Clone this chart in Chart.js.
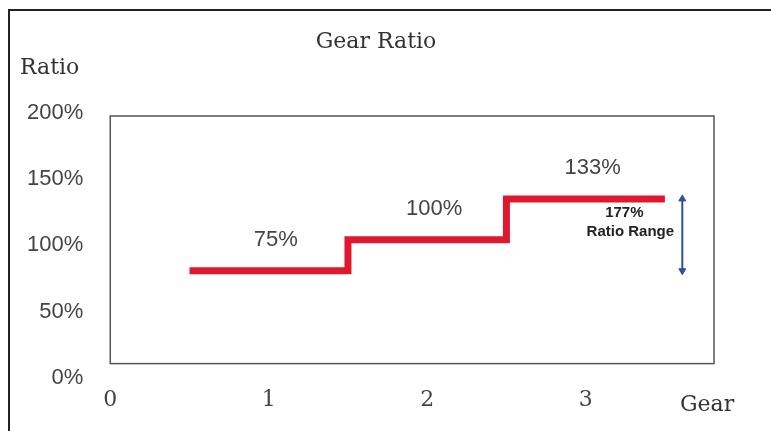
<!DOCTYPE html>
<html>
<head>
<meta charset="utf-8">
<script src="https://cdn.jsdelivr.net/npm/chart.js@4"></script>
<style>
  html, body { margin: 0; padding: 0; background: #ffffff; }
  #wrap { width: 771px; height: 431px; position: relative; }
</style>
</head>
<body>
<div id="wrap"><canvas id="gearChart"></canvas></div>
<script>
// data
const gears = [1, 2, 3];
const ratios = [75, 100, 133];
const xTicks = [0, 1, 2, 3];
const yTicks = [0, 50, 100, 150, 200];
const rangeLabel = ['177%', 'Ratio Range'];
const arrowGear = 3.61;

// each gear drawn as a flat step from g-0.5 to g+0.5
const stepPoints = [];
gears.forEach(function (g, i) {
    stepPoints.push({ x: g - 0.5, y: ratios[i] });
    stepPoints.push({ x: g + 0.5, y: ratios[i] });
});

const arrowPoints = [
    { x: arrowGear, y: Math.min.apply(null, ratios) },
    { x: arrowGear, y: Math.max.apply(null, ratios) }
];

const serif = '"DejaVu Serif", serif';
const sans = '"Liberation Sans", Arial, sans-serif';

const extras = {
    id: 'extras',
    beforeDraw: function (chart) {
        const ctx = chart.ctx;
        ctx.save();
        // outer frame (only top and left visible)
        ctx.strokeStyle = '#222';
        ctx.lineWidth = 2;
        ctx.beginPath();
        ctx.moveTo(9, 431);
        ctx.lineTo(9, 10);
        ctx.lineTo(771, 10);
        ctx.stroke();
        ctx.restore();
    },
    afterDatasetsDraw: function (chart) {
        const ctx = chart.ctx;
        const xs = chart.scales.x, ys = chart.scales.y;
        ctx.save();
        // plot box 0..200%
        const l = xs.getPixelForValue(xs.min), r = xs.getPixelForValue(xs.max);
        const t = ys.getPixelForValue(yTicks[yTicks.length - 1]), b = ys.getPixelForValue(yTicks[0]);
        ctx.strokeStyle = '#555';
        ctx.lineWidth = 1.5;
        ctx.strokeRect(l, t, r - l, b - t);

        // value labels over each step
        ctx.fillStyle = '#444';
        ctx.font = '22px ' + sans;
        ctx.textAlign = 'center';
        ctx.textBaseline = 'middle';
        gears.forEach(function (g, i) {
            ctx.fillText(ratios[i] + '%', xs.getPixelForValue(g) + 7, ys.getPixelForValue(ratios[i]) - 31);
        });

        // ratio range note
        ctx.fillStyle = '#222';
        ctx.font = 'bold 15px ' + sans;
        const nx = xs.getPixelForValue(arrowGear) - 52;
        ctx.fillText(rangeLabel[0], nx - 6, 213);
        ctx.fillText(rangeLabel[1], nx, 232);

        // title and axis names
        ctx.fillStyle = '#333';
        ctx.font = '22px ' + serif;
        ctx.fillText('Gear Ratio', 376, 42);
        ctx.textAlign = 'left';
        ctx.fillText('Ratio', 20, 68);
        ctx.fillText('Gear', 680, 405);
        ctx.restore();
    }
};

new Chart(document.getElementById('gearChart'), {
    type: 'scatter',
    data: {
        datasets: [
            {
                label: 'Gear Ratio',
                data: stepPoints,
                showLine: true,
                borderColor: '#e0182d',
                borderWidth: 7,
                borderJoinStyle: 'miter',
                borderCapStyle: 'butt',
                pointRadius: 0,
                xAxisID: 'x',
                yAxisID: 'y'
            },
            {
                label: 'Ratio Range',
                data: arrowPoints,
                showLine: true,
                borderColor: '#2f4f9f',
                borderWidth: 2,
                pointStyle: 'triangle',
                pointRadius: 4,
                pointRotation: [180, 0],
                pointBackgroundColor: '#2f4f9f',
                pointBorderColor: '#2f4f9f',
                pointBorderWidth: 1,
                xAxisID: 'x',
                yAxisID: 'y'
            }
        ]
    },
    options: {
        responsive: true,
        maintainAspectRatio: false,
        animation: false,
        layout: {
            padding: { left: 0, right: 57, top: 113, bottom: 9 }
        },
        plugins: {
            legend: { display: false },
            tooltip: { enabled: false },
            title: { display: false }
        },
        scales: {
            x: {
                type: 'linear',
                min: 0,
                max: 3.81,
                grid: { display: false, drawTicks: false },
                border: { display: false },
                afterBuildTicks: function (axis) {
                    axis.ticks = xTicks.map(function (v) { return { value: v }; });
                },
                ticks: {
                    color: '#444',
                    font: { family: serif, size: 22 },
                    padding: 9,
                    autoSkip: false,
                    maxRotation: 0
                }
            },
            // tick labels sit a little further apart than the box they describe
            yLabels: {
                type: 'linear',
                position: 'left',
                min: 0,
                max: 200,
                grid: { display: false, drawTicks: false },
                border: { display: false },
                afterBuildTicks: function (axis) {
                    axis.ticks = yTicks.map(function (v) { return { value: v }; });
                },
                ticks: {
                    color: '#444',
                    font: { family: sans, size: 22 },
                    padding: 27,
                    callback: function (v) { return v + '%'; }
                }
            },
            y: {
                type: 'linear',
                display: false,
                min: -11.3,
                max: 202.4
            }
        }
    },
    plugins: [extras]
});
</script>
</body>
</html>
